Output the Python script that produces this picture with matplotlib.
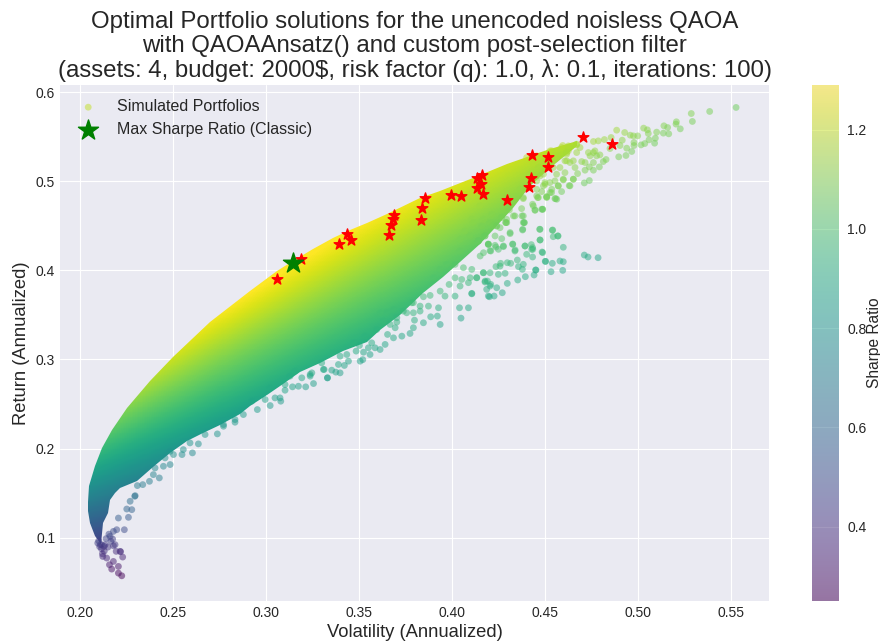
import matplotlib
matplotlib.use('Agg')
import matplotlib.pyplot as plt
from matplotlib.patches import Polygon
import numpy as np

# scattered portfolios
crest_vol = [.4401, .4437, .4473, .4491, .4536, .4563, .4598, .4634, .4652, .4589, .4625, .4616, .4670, .4536, .4554, .4455,
             .4509, .4365, .4383, .4437, .4482, .4383, .4330, .4294, .4267, .4240, .4204, .4159, .4177, .4231, .4312, .4383,
             .4455, .4527, .4553, .4464, .4544, .4491, .4553, .4455, .4500, .4527, .4616, .4571, .4616, .4652, .4607, .4562,
             .4509, .4419]
crest_ret = [.5266, .5191, .5060, .4948, .4910, .4798, .5023, .4948, .5023, .5379, .5379, .5304, .5416, .5341, .5285, .4836,
             .4817, .4910, .4817, .4723, .4686, .4611, .4611, .4536, .4592, .4498, .4536, .4498, .4386, .4386, .4424, .4536,
             .5285, .5341, .5322, .5154, .5154, .5079, .5004, .5004, .4966, .4873, .5322, .5285, .5229, .5229, .5097, .5079,
             .5229, .5079]

tail_vol = [.4855, .5527, .5385, .5286, .5292, .5206, .5204, .5227, .5139, .5159, .5030, .5050, .5055, .5100, .5136, .5165,
            .4885, .4928, .4958, .4975, .4998, .4819, .4786, .4760, .4915, .5093, .5059, .5089, .5036, .5016, .4978, .4978,
            .4939, .4966, .4935, .4896, .4903, .4849, .4828, .4813, .4792, .4768, .4733, .4760, .4795, .4777, .4742, .4715,
            .4697, .4760, .4738, .4715, .4760, .4675, .4652, .4630, .4738, .4711, .4661, .4634, .4607, .4670, .4625, .4670,
            .4595, .4625, .4688, .4580, .4598, .4571, .4589, .4557, .4535, .4509, .4482, .4460, .4487, .4446]
tail_ret = [.5491, .5828, .5783, .5760, .5671, .5667, .5641, .5588, .5622, .5603, .5596, .5577, .5536, .5551, .5540, .5532,
            .5573, .5547, .5517, .5509, .5509, .5468, .5453, .5446, .5461, .5483, .5465, .5427, .5423, .5408, .5435, .5401,
            .5371, .5334, .5289, .5274, .5401, .5367, .5244, .5221, .5161, .5341, .5322, .5322, .5296, .5285, .5285, .5210,
            .5221, .5210, .5161, .5124, .5124, .5086, .5023, .4951, .5008, .4981, .5154, .5210, .5229, .5322, .5341, .5408,
            .5401, .5397, .5378, .5154, .5015, .4948, .4884, .4805, .4873, .4824, .4884, .4817, .4686, .4674]

island_vol = [.4785, .4731, .4711, .4598, .4580, .4595, .4532, .4539, .4501, .4484, .4598, .4473, .4570, .4544, .4539, .4471,
              .4433, .4433, .4449, .4389, .4380, .4326, .4392, .4426, .4434, .4339, .4351, .4401, .4503, .4451, .4441, .4394,
              .4353, .4357, .4378, .4383, .4315, .4297, .4261, .4236, .4249, .4285, .4297, .4270, .4226, .4195, .4186, .4208,
              .4168, .4190, .4177, .4132, .4088, .4106, .4043, .4195, .4141, .4204, .4236, .4276, .4312, .4290]
island_ret = [.4142, .4150, .4172, .4097, .4105, .4000, .3985, .4079, .4101, .4206, .4259, .4341, .4386, .4378, .4450, .4461,
              .4255, .4150, .4004, .4536, .4461, .4296, .4274, .4289, .4236, .4229, .4116, .4180, .4101, .4004, .3948, .3929,
              .3892, .4042, .4012, .4068, .4079, .4086, .4079, .4042, .3955, .3967, .3854, .3749, .3712, .3712, .3787, .3843,
              .3974, .3880, .3869, .3918, .3862, .3742, .3824, .4296, .4330, .4221, .4262, .4274, .4412, .4536]

upper_vol = [.4473, .4541, .4568, .4473, .4487, .4387, .4379, .4326, .4392, .4428, .4338, .4276, .4231, .4195, .4267, .4177,
             .4141, .4288, .4222, .4258, .4338, .4376, .4308, .4446, .4487, .4433, .4374, .4383, .4464, .4508, .4553, .4526,
             .4571, .4499, .4455, .4096, .4105, .4168, .4240, .4114, .4043, .4213, .4069, .4150, .4293]
upper_ret = [.4461, .4453, .4386, .4341, .4199, .4536, .4453, .4292, .4273, .4236, .4217, .4266, .4281, .4292, .4356, .4386,
             .4330, .4536, .4506, .4479, .4611, .4611, .4678, .4678, .4685, .4742, .4693, .4805, .4817, .4828, .4805, .4985,
             .4948, .4985, .4910, .4386, .4573, .4573, .4498, .4536, .4348, .4629, .4442, .4723, .4573]

centre_vol = [.4088, .4048, .3927, .3921, .3936, .3885, .3846, .3798, .4040, .4016, .4106, .4201, .4240, .4204, .4178, .4169,
              .4204, .4258, .4133, .4097, .4052, .4016, .3984, .3936, .3882, .3846, .3828, .3783, .3738, .3703, .3667, .3649,
              .3685, .3792, .3873, .3962, .4061, .4106, .4151, .4142, .4195, .4208, .4249, .4169, .4043, .4016, .3971, .3936,
              .3900]
centre_ret = [.3580, .3464, .3580, .3487, .3393, .3479, .3412, .3441, .3580, .3711, .3737, .3704, .3805, .3824, .3880, .3973,
              .3973, .4048, .3917, .3917, .3898, .3917, .3842, .3767, .3719, .3704, .3599, .3636, .3543, .3468, .3393, .3524,
              .3561, .3524, .3599, .3711, .4030, .4011, .4161, .4329, .4292, .4217, .4236, .4198, .4217, .4067, .4067, .4011,
              .3917]

mid_vol = [.3792, .3730, .3774, .3685, .3640, .3613, .3586, .3550, .3568, .3559, .3524, .3520, .3506, .3484, .3502, .3443,
           .3421, .3398, .3375, .3353, .3308, .3330, .3434, .3389, .3237, .3792, .3756, .3703, .3653, .3595, .3694, .3828,
           .3613, .3631, .3532, .3470, .3398, .3330, .3312, .3255, .3213, .3174, .3142, .3102, .3079, .3022, .2953, .2878,
           .2833, .2771, .2995, .3048, .3075, .2923, .3129, .3192, .3237, .3299, .3246, .3156, .3102, .3022]
mid_ret = [.3356, .3262, .3292, .3243, .3169, .3112, .3131, .3131, .3187, .3056, .3082, .2998, .2981, .3094, .3157, .2981,
           .2933, .2850, .2858, .2880, .2888, .2794, .3056, .2944, .2832, .3637, .3524, .3420, .3281, .3337, .3356, .3543,
           .3524, .3431, .3262, .3187, .3037, .2794, .2888, .2730, .2693, .2700, .2693, .2655, .2532, .2483, .2438, .2382,
           .2326, .2270, .2551, .2569, .2569, .2532, .2813, .2794, .2813, .2962, .2850, .2869, .2719, .2682]

low_vol = [.2738, .2604, .2548, .2502, .2426, .2484, .2448, .2373, .2337, .2308, .2294, .2636, .2672, .2591, .2555, .2833,
           .2771, .2403, .2457, .2394, .2484, .2260, .2238, .2197, .2278, .2251, .2296, .2269, .2206, .2179, .2161, .2215,
           .2188, .2229, .2194, .2224, .2206, .2206, .2179, .2170, .2158, .2143, .2122, .2108, .2129, .2179, .2218, .2134,
           .2116, .2095, .2100, .2115, .2130, .2150, .2165, .2105, .2140, .2155, .2175, .2120]
low_ret = [.2165, .1952, .1933, .1933, .1671, .1821, .1802, .1633, .1596, .1585, .1465, .2053, .2158, .2064, .1989, .2296,
           .2251, .1783, .1896, .1708, .1970, .1229, .1090, .1090, .1315, .1322, .1472, .1409, .1221, .1071, .1015, .0847,
           .0922, .0783, .0847, .0573, .0603, .0678, .0734, .0648, .0697, .0772, .0790, .0922, .0903, .0910, .0843, .0921,
           .0921, .0940, .0965, .0875, .0850, .0895, .0960, .0900, .0990, .1040, .0985, .0820]

# solid part of the cloud: upper and lower edge
top_vol = [.2110, .2081, .2054, .2040, .2040, .2050, .2080, .2116, .2170, .2250, .2376, .2500, .2700, .2914, .3057, .3147,
           .3250, .3362, .3450, .3541, .3649, .3828, .3935, .4114, .4293, .4401, .4509, .4670]
top_ret = [.0930, .1015, .1165, .1300, .1400, .1577, .1801, .2007, .2213, .2457, .2756, .3030, .3420, .3768, .3990, .4105,
           .4245, .4367, .4455, .4536, .4630, .4817, .4895, .5041, .5191, .5270, .5350, .5454]
bottom_vol = [.2110, .2125, .2152, .2161, .2188, .2215, .2305, .2394, .2484, .2573, .2663, .2753, .2860, .2914, .3004, .3093,
              .3183, .3290, .3416, .3541, .3613, .3720, .3846, .3953, .4043, .4151, .4222, .4330, .4420, .4527, .4670]
bottom_ret = [.0930, .1165, .1277, .1427, .1500, .1560, .1640, .1790, .1950, .2080, .2170, .2270, .2390, .2480, .2600, .2720,
              .2860, .2960, .3090, .3200, .3330, .3500, .3750, .3930, .4090, .4300, .4450, .4700, .4950, .5150, .5400]

# optimiser solutions
qaoa_vol = [.3057, .3188, .3394, .3434, .3455, .3659, .3670, .3684, .3688, .3831, .3839, .3855, .3994, .4046, .4132, .4163,
            .4154, .4136, .4165, .4296, .4416, .4423, .4428, .4516, .4518, .4706, .4858]
qaoa_ret = [.3907, .4124, .4296, .4405, .4341, .4401, .4513, .4573, .4618, .4566, .4697, .4809, .4850, .4835, .5034, .5068,
            .4967, .4925, .4858, .4794, .4937, .5041, .5289, .5270, .5165, .5498, .5416]
max_sharpe_vol = [.3147]
max_sharpe_ret = [.4079]

x_ticks = [0.20, 0.25, 0.30, 0.35, 0.40, 0.45, 0.50, 0.55]
y_ticks = [0.1, 0.2, 0.3, 0.4, 0.5, 0.6]
cbar_ticks = [0.4, 0.6, 0.8, 1.0, 1.2]

plt.style.use('seaborn-v0_8-darkgrid')
plt.rcParams['font.family'] = ['Liberation Sans', 'DejaVu Sans']

fig = plt.figure(figsize=(8.8, 6.41), dpi=100)
ax = fig.add_axes([60 / 880, 1 - 601 / 641, 709 / 880, 516 / 641])
cax = fig.add_axes([812 / 880, 1 - 601 / 641, 27 / 880, 516 / 641])

vmin, vmax = 0.25, 1.29

# dense region coloured by return / volatility and clipped to its edges
vol_grid = np.linspace(0.20, 0.47, 500)
ret_grid = np.linspace(0.08, 0.55, 500)
mesh = ax.pcolormesh(vol_grid, ret_grid, ret_grid[:, None] / vol_grid[None, :],
                     cmap='viridis', vmin=vmin, vmax=vmax, shading='auto', zorder=2)
edge = np.column_stack([top_vol + bottom_vol[::-1], top_ret + bottom_ret[::-1]])
clip = Polygon(edge, closed=True, transform=ax.transData, facecolor='none', edgecolor='none')
ax.add_patch(clip)
mesh.set_clip_path(clip)

sim_vol = np.array(crest_vol + tail_vol + island_vol + upper_vol + centre_vol + mid_vol + low_vol)
sim_ret = np.array(crest_ret + tail_ret + island_ret + upper_ret + centre_ret + mid_ret + low_ret)
sc = ax.scatter(sim_vol, sim_ret, c=sim_ret / sim_vol, cmap='viridis', vmin=vmin, vmax=vmax,
                s=24, alpha=0.5, linewidths=0, label='Simulated Portfolios', zorder=3)
ax.scatter(qaoa_vol, qaoa_ret, marker='*', color='red', s=65, zorder=4)
ax.scatter(max_sharpe_vol, max_sharpe_ret, marker='*', color='green', s=230,
           label='Max Sharpe Ratio (Classic)', zorder=5)

ax.set_xlim(0.1892, 0.5704)
ax.set_ylim(0.029, 0.608)
ax.set_xticks(x_ticks)
ax.set_yticks(y_ticks)
ax.tick_params(labelsize=10)
ax.set_xlabel('Volatility (Annualized)', fontsize=13.2, labelpad=3)
ax.set_ylabel('Return (Annualized)', fontsize=13.2, labelpad=4.5)
ax.set_title('Optimal Portfolio solutions for the unencoded noisless QAOA\n'
             'with QAOAAnsatz() and custom post-selection filter\n'
             '(assets: 4, budget: 2000$, risk factor (q): 1.0, λ: 0.1, iterations: 100)',
             fontsize=17.25, pad=6, linespacing=1.1)
ax.legend(loc='upper left', bbox_to_anchor=(-0.003, 1), fontsize=11.5, frameon=False)

cbar = fig.colorbar(sc, cax=cax)
cbar.set_ticks(cbar_ticks)
cbar.ax.tick_params(labelsize=10, length=0, pad=6)
cbar.set_label('Sharpe Ratio', fontsize=11.2, labelpad=0)
cbar.outline.set_visible(False)

fig.savefig('out.png', dpi=100)
